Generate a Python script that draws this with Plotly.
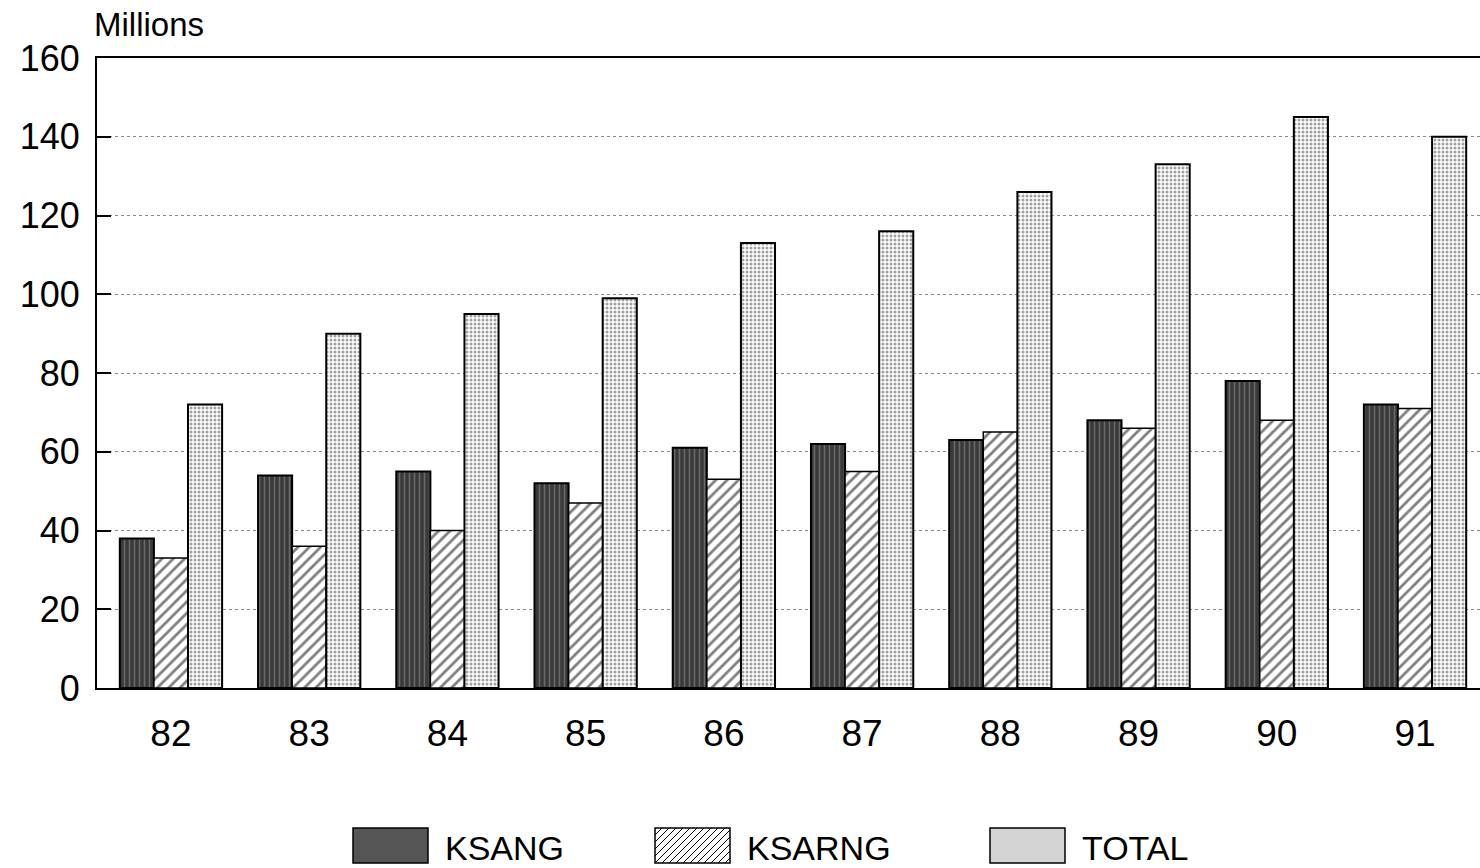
import plotly.graph_objects as go

years = ["82", "83", "84", "85", "86", "87", "88", "89", "90", "91"]
ksang = [38, 54, 55, 52, 61, 62, 63, 68, 78, 72]
ksarng = [33, 36, 40, 47, 53, 55, 65, 66, 68, 71]
total = [72, 90, 95, 99, 113, 116, 126, 133, 145, 140]
y_ticks = [0, 20, 40, 60, 80, 100, 120, 140, 160]

FONT = "Liberation Sans, Arial, sans-serif"
W, H = 1480, 868
L, T, B = 97, 58, 180
PW, PH = W - L, H - T - B

fig = go.Figure()
fig.add_bar(x=years, y=ksang, name="KSANG",
            marker=dict(color="#444444", line=dict(color="black", width=2),
                        pattern=dict(shape="|", fgcolor="#9a9a9a", bgcolor="#3a3a3a", size=5, solidity=0.3)))
fig.add_bar(x=years, y=ksarng, name="KSARNG",
            marker=dict(color="white", line=dict(color="black", width=1.5),
                        pattern=dict(shape="/", fgcolor="black", bgcolor="white", size=8, solidity=0.35)))
fig.add_bar(x=years, y=total, name="TOTAL",
            marker=dict(color="white", line=dict(color="black", width=2),
                        pattern=dict(shape=".", fgcolor="#444444", bgcolor="white", size=4, solidity=0.45)))

fig.update_layout(
    width=W, height=H,
    margin=dict(l=L, r=0, t=T, b=B, autoexpand=False),
    paper_bgcolor="white", plot_bgcolor="white",
    barmode="group", bargap=0.26, bargroupgap=0,
    showlegend=False,
    font=dict(family=FONT, color="black"),
)
fig.update_xaxes(
    type="category", range=[-0.535, 9.47],
    showline=True, linecolor="black", linewidth=2, mirror=True,
    showgrid=False, ticks="",
    tickfont=dict(size=37, family=FONT), ticklabelstandoff=12,
)
fig.update_yaxes(
    range=[0, 160], tickvals=y_ticks,
    showline=True, linecolor="black", linewidth=2,
    showgrid=True, gridcolor="#8a8a8a", griddash="dot", gridwidth=1,
    ticks="inside", ticklen=14, tickcolor="black", tickwidth=1.5,
    tickfont=dict(size=36, family=FONT), ticklabelstandoff=8,
    zeroline=False,
)

fig.add_annotation(text="Millions", xref="paper", yref="paper", x=0, y=(H - T - B + (T - 25)) / PH,
                   xanchor="left", yanchor="middle", xshift=-5, showarrow=False,
                   font=dict(size=33, family=FONT))


def px_x(px):
    return (px - L) / PW


def px_y(py):
    # py measured from top of the image
    return (H - B - py) / PH


# custom legend (swatches + labels)
legend_items = [
    ("KSANG", 353, "#555555"),
    ("KSARNG", 655, "white"),
    ("TOTAL", 990, "#d4d4d4"),
]
SW, ST, SB = 75, 828, 863
for name, x0, col in legend_items:
    fig.add_shape(type="rect", xref="paper", yref="paper",
                  x0=px_x(x0), x1=px_x(x0 + SW), y0=px_y(SB), y1=px_y(ST),
                  fillcolor=col, line=dict(color="black", width=1.5))
    if name == "KSARNG":
        hgt = SB - ST
        for k in range(-hgt, SW, 7):
            xa, ya = x0 + k, SB
            xb, yb = x0 + k + hgt, ST
            if xa < x0:
                ya -= x0 - xa
                xa = x0
            if xb > x0 + SW:
                yb += xb - (x0 + SW)
                xb = x0 + SW
            if xb <= xa:
                continue
            fig.add_shape(type="line", xref="paper", yref="paper",
                          x0=px_x(xa), x1=px_x(xb), y0=px_y(ya), y1=px_y(yb),
                          line=dict(color="black", width=1))
    fig.add_annotation(text=name, xref="paper", yref="paper",
                       x=px_x(x0 + 90), y=px_y(848),
                       xanchor="left", yanchor="middle", showarrow=False,
                       font=dict(size=34, family=FONT))

fig.write_html("out.html", config={"displayModeBar": False},
               post_script="document.body.style.margin='0';document.body.style.overflow='hidden';")
